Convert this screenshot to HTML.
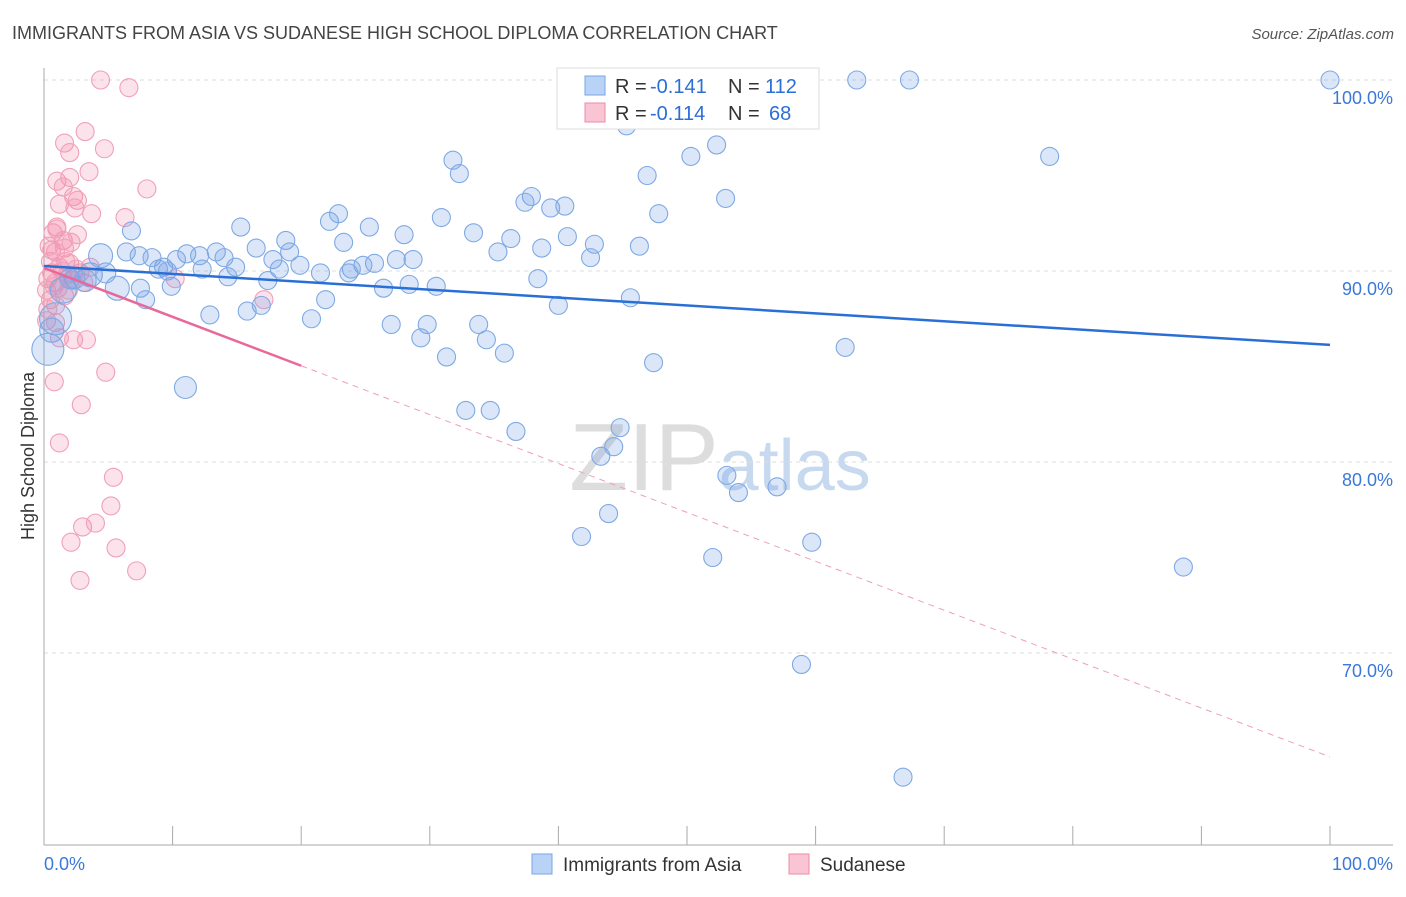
<!DOCTYPE html>
<html><head><meta charset="utf-8"><style>
body{margin:0;background:#fff;font-family:"Liberation Sans",sans-serif;}
svg text{font-family:"Liberation Sans",sans-serif;}
</style></head><body>
<svg id="chart" width="1406" height="892" viewBox="0 0 1406 892">
<text x="12" y="39" font-size="18" fill="#444">IMMIGRANTS FROM ASIA VS SUDANESE HIGH SCHOOL DIPLOMA CORRELATION CHART</text>
<text x="1394" y="39" font-size="15" fill="#555" text-anchor="end" font-style="italic">Source: ZipAtlas.com</text>
<text x="720" y="490" font-size="96" fill="#ddd" text-anchor="middle" font-family="Liberation Serif">ZIP<tspan fill="#c7d9ef" font-family="Liberation Sans" font-size="72">atlas</tspan></text>
<g id="grid"></g>
<g id="axes"></g>
<g id="pts"></g>
<g id="trends"></g>
<text transform="translate(34,456) rotate(-90)" font-size="18" fill="#333" text-anchor="middle">High School Diploma</text>
<g>
<rect x="557" y="68" width="262" height="61" fill="#fff" stroke="#ddd"/>
<rect x="585" y="76" width="20" height="19" fill="#b8d3f5" stroke="#7aa6e3"/>
<rect x="585" y="103" width="20" height="19" fill="#f9c5d4" stroke="#ee8aa8"/>
<text x="615" y="93" font-size="20" fill="#333">R =</text>
<text x="650" y="93" font-size="20" fill="#2b6fd6">-0.141</text>
<text x="728" y="93" font-size="20" fill="#333">N =</text>
<text x="765" y="93" font-size="20" fill="#2b6fd6">112</text>
<text x="615" y="120" font-size="20" fill="#333">R =</text>
<text x="650" y="120" font-size="20" fill="#2b6fd6">-0.114</text>
<text x="728" y="120" font-size="20" fill="#333">N =</text>
<text x="769" y="120" font-size="20" fill="#2b6fd6">68</text>
</g>
<g>
<rect x="532" y="854" width="20" height="20" fill="#b8d3f5" stroke="#7aa6e3"/>
<text x="563" y="871" font-size="19" fill="#333">Immigrants from Asia</text>
<rect x="789" y="854" width="20" height="20" fill="#f9c5d4" stroke="#ee8aa8"/>
<text x="820" y="871" font-size="19" fill="#333">Sudanese</text>
</g>
</svg>
<script>
const yTicks=[100,90,80,70];
const yTickLabels=["100.0%","90.0%","80.0%","70.0%"];
const xTickVals=[0,10,20,30,40,50,60,70,80,90,100];
const xEndLabels=["0.0%","100.0%"];
const asiaX=[100,63.2,67.3,53.3,45.3,52.3,31.8,50.3,78.2,32.3,46.9,37.9,37.4,53.0,39.4,40.5,47.8,30.9,22.2,22.9,25.3,15.3,6.8,33.4,28.0,23.3,36.3,40.7,18.8,42.8,46.3,38.7,4.4,6.4,16.5,11.1,13.4,35.3,19.1,7.4,8.4,14.0,10.3,12.1,17.8,27.4,28.7,42.5,25.7,24.8,23.9,19.9,9.3,8.9,14.9,12.3,18.3,21.5,9.6,23.7,38.4,14.3,17.4,3.6,3.2,2.4,1.5,5.7,7.5,9.9,28.4,26.4,30.5,21.9,7.9,45.6,16.9,40.0,15.8,12.9,20.8,0.9,0.3,0.6,27.0,29.8,33.8,29.3,34.4,62.3,31.3,35.8,47.4,11.0,32.8,34.7,36.7,44.8,44.3,43.3,53.1,54.0,57.0,41.8,43.9,59.7,52.0,88.6,58.9,66.8,4.8,2.0];
const asiaY=[100,100,100,98.7,97.6,96.6,95.8,96.0,96.0,95.1,95.0,93.9,93.6,93.8,93.3,93.4,93.0,92.8,92.6,93.0,92.3,92.3,92.1,92.0,91.9,91.5,91.7,91.8,91.6,91.4,91.3,91.2,90.8,91.0,91.2,90.9,91.0,91.0,91.0,90.8,90.7,90.7,90.6,90.8,90.6,90.6,90.6,90.7,90.4,90.3,90.1,90.3,90.2,90.1,90.2,90.1,90.1,89.9,90.0,89.9,89.6,89.7,89.5,89.8,89.5,89.6,89.0,89.1,89.1,89.2,89.3,89.1,89.2,88.5,88.5,88.6,88.2,88.2,87.9,87.7,87.5,87.5,85.9,86.9,87.2,87.2,87.2,86.5,86.4,86.0,85.5,85.7,85.2,83.9,82.7,82.7,81.6,81.8,80.8,80.3,79.3,78.4,78.7,76.1,77.3,75.8,75.0,74.5,69.4,63.5,89.9,89.6];
const asiaR=[9,9,9,9,9,9,9,9,9,9,9,9,9,9,9,9,9,9,9,9,9,9,9,9,9,9,9,9,9,9,9,9,12,9,9,9,9,9,9,9,9,9,9,9,9,9,9,9,9,9,9,9,9,9,9,9,9,9,9,9,9,9,9,12,11,10,13,12,9,9,9,9,9,9,9,9,9,9,9,9,9,16,16,12,9,9,9,9,9,9,9,9,9,11,9,9,9,9,9,9,9,9,9,9,9,9,9,9,9,9,10,10];
const sudX=[4.4,6.6,3.2,1.6,2.0,4.7,3.5,1.0,2.0,8.0,1.5,2.3,2.6,1.2,2.4,3.7,6.3,1.0,0.7,1.5,2.1,0.6,1.6,0.9,1.7,1.2,2.0,0.6,0.3,0.9,1.1,1.6,0.5,0.9,0.2,1.2,2.3,3.3,4.8,0.8,2.9,1.2,5.4,5.2,3.0,4.0,2.1,5.6,2.8,7.2,10.2,17.1,0.2,0.5,2.8,3.6,1.9,0.9,2.6,2.2,0.3,1.4,0.8,1.8,2.5,0.4,1.0,3.1];
const sudY=[100,99.6,97.3,96.7,96.2,96.4,95.2,94.7,94.9,94.3,94.4,93.9,93.7,93.5,93.3,93.0,92.8,92.3,92.0,91.6,91.5,91.1,91.2,91.0,90.5,90.2,90.4,89.9,89.6,89.4,89.1,88.7,88.5,88.2,87.4,86.5,86.4,86.4,84.7,84.2,83.0,81.0,79.2,77.7,76.6,76.8,75.8,75.5,73.8,74.3,89.6,88.5,89.0,90.5,89.9,90.2,89.0,87.3,91.9,89.5,88.0,90.0,89.2,89.8,90.1,91.3,92.2,89.4];
const asiaTrend=[90.26,86.13];
const sudTrend=[90.16,64.56];
const sudSolidEnd=20;
const NS="http://www.w3.org/2000/svg";
const X0=44,X1=1330,Y100=80,PX=19.1;
function xs(v){return X0+(X1-X0)*v/100;}
function ys(v){return Y100+(100-v)*PX;}
function mk(tag,attrs,parent){const e=document.createElementNS(NS,tag);for(const k in attrs)e.setAttribute(k,attrs[k]);parent.appendChild(e);return e;}
const grid=document.getElementById('grid'),axes=document.getElementById('axes'),pts=document.getElementById('pts'),tr=document.getElementById('trends');
yTicks.forEach((t,i)=>{
 const l=mk('line',{x1:44,x2:1393,y1:ys(t),y2:ys(t),stroke:'#ddd','stroke-dasharray':'4,4'},grid);
 
 
 const tx=mk('text',{x:1393,y:ys(t)+24,'font-size':18,fill:'#3b78d8','text-anchor':'end'},axes);
 tx.textContent=yTickLabels[i];
 
 
});
let a=mk('line',{x1:44,x2:44,y1:68,y2:845,stroke:'#aaa'},axes);


a=mk('line',{x1:44,x2:1393,y1:845,y2:845,stroke:'#aaa'},axes);


xTickVals.forEach(v=>{
 const t=mk('line',{x1:xs(v),x2:xs(v),y1:826,y2:845,stroke:'#aaa'},axes);
 
 
});
let xl=mk('text',{x:44,y:870,'font-size':18,fill:'#3b78d8'},axes);xl.textContent=xEndLabels[0];


xl=mk('text',{x:1393,y:870,'font-size':18,fill:'#3b78d8','text-anchor':'end'},axes);xl.textContent=xEndLabels[1];


sudX.forEach((v,i)=>{
 const c=mk('circle',{cx:xs(v),cy:ys(sudY[i]),r:9,fill:'rgba(242,140,170,0.25)',stroke:'#f0a0b8','stroke-width':1.1},pts);
 
 
});
asiaX.forEach((v,i)=>{
 const c=mk('circle',{cx:xs(v),cy:ys(asiaY[i]),r:asiaR[i],fill:'rgba(110,160,230,0.25)',stroke:'#7fa9e3','stroke-width':1.1},pts);
 
 
});
let l=mk('line',{x1:xs(0),y1:ys(asiaTrend[0]),x2:xs(100),y2:ys(asiaTrend[1]),stroke:'#2a6fd6','stroke-width':2.5},tr);


const sm=sudTrend[0]+(sudTrend[1]-sudTrend[0])*sudSolidEnd/100;
l=mk('line',{x1:xs(0),y1:ys(sudTrend[0]),x2:xs(sudSolidEnd),y2:ys(sm),stroke:'#e8689a','stroke-width':2.5},tr);


l=mk('line',{x1:xs(sudSolidEnd),y1:ys(sm),x2:xs(100),y2:ys(sudTrend[1]),stroke:'#eea0b8','stroke-width':1,'stroke-dasharray':'6,5'},tr);


</script>
</body></html>
